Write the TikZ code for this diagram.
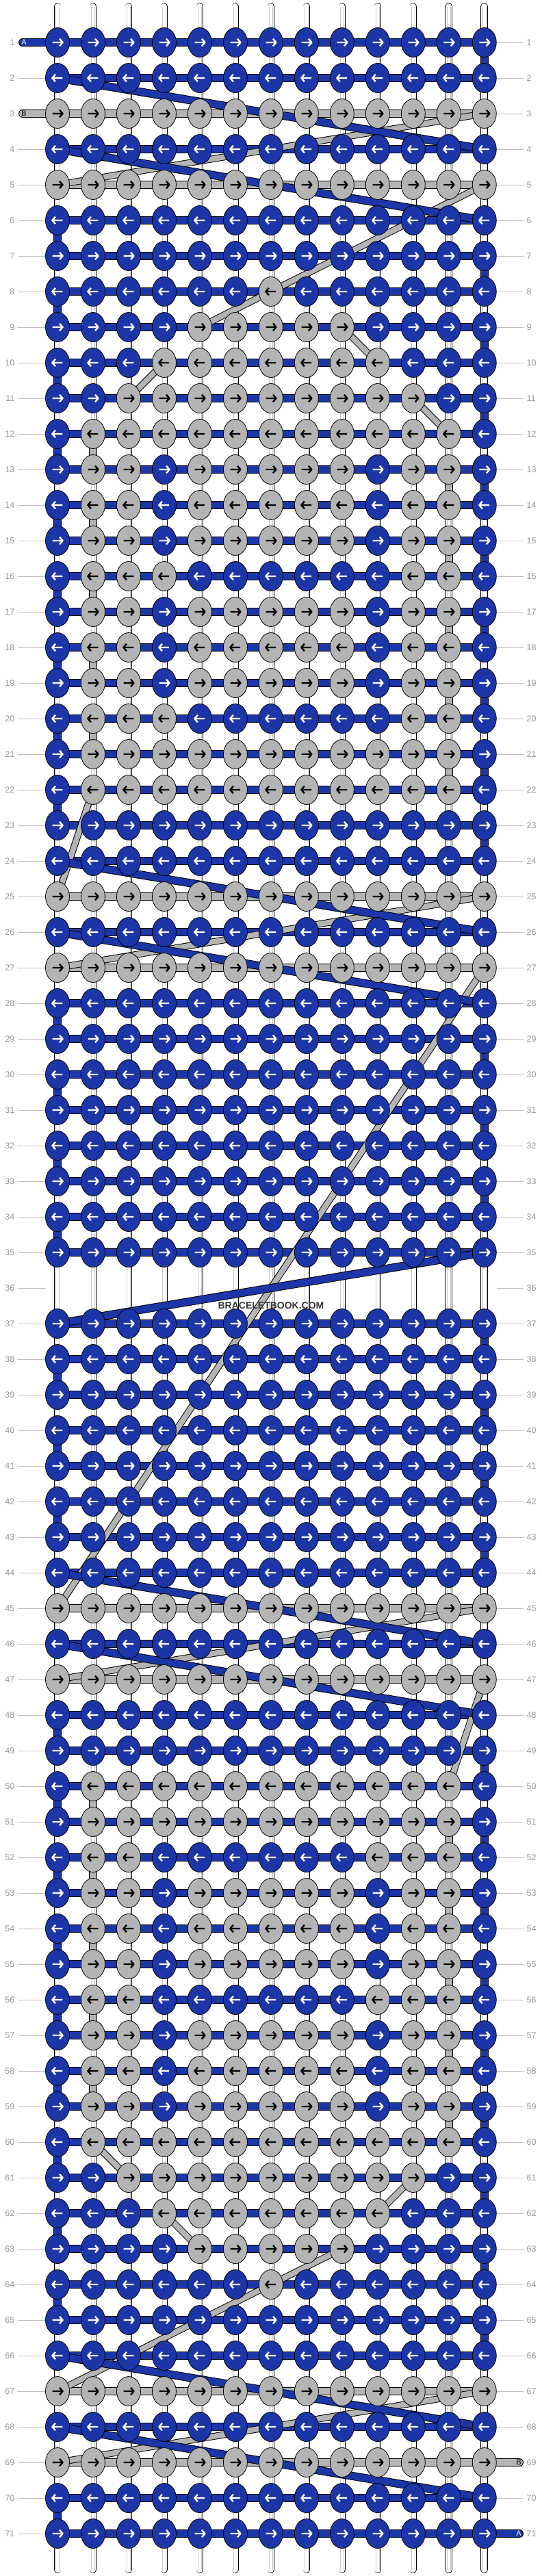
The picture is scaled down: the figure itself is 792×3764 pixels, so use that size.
\documentclass[tikz,border=0pt]{standalone}
\usepackage{fontspec}
\setmainfont{Liberation Sans}
\usetikzlibrary{shapes.geometric}
\definecolor{kblue}{RGB}{28,54,168}
\definecolor{kgray}{RGB}{180,180,180}
\definecolor{lblgray}{RGB}{150,150,150}
\definecolor{lbllinec}{RGB}{190,190,190}
\definecolor{tubegray}{RGB}{200,200,200}
\definecolor{wmarkc}{RGB}{55,55,55}
\def\patA{A,A,A,A,A,A,A,A,A,A,A,A,A}
\def\patB{B,B,B,B,B,B,B,B,B,B,B,B,B}
\def\patH{A,A,A,A,A,A,B,A,A,A,A,A,A}
\def\patI{A,A,A,A,B,B,B,B,B,A,A,A,A}
\def\patJ{A,A,A,B,B,B,B,B,B,B,A,A,A}
\def\patK{A,A,B,B,B,B,B,B,B,B,B,A,A}
\def\patL{A,B,B,B,B,B,B,B,B,B,B,B,A}
\def\patM{A,B,B,A,B,B,B,B,B,A,B,B,A}
\def\patP{A,B,B,B,A,A,A,A,A,A,B,B,A}
\def\patQ{A,B,B,A,A,A,A,A,A,B,B,B,A}
\def\rowlist{1/A,2/A,3/B,4/A,5/B,6/A,7/A,8/H,9/I,10/J,11/K,12/L,13/M,14/M,15/M,16/P,17/M,18/M,19/M,20/P,21/L,22/L,23/A,24/A,25/B,26/A,27/B,28/A,29/A,30/A,31/A,32/A,33/A,34/A,35/A,37/A,38/A,39/A,40/A,41/A,42/A,43/A,44/A,45/B,46/A,47/B,48/A,49/A,50/L,51/L,52/Q,53/M,54/M,55/M,56/Q,57/M,58/M,59/M,60/L,61/K,62/J,63/I,64/H,65/A,66/A,67/B,68/A,69/B,70/A,71/A}
\begin{document}
\begin{tikzpicture}[x=1pt,y=-1pt,
  knot/.style={ellipse, draw=black, line width=0.8pt, minimum width=35pt, minimum height=43pt, inner sep=0pt},
  barout/.style={draw=black, line width=12pt},
  barin/.style={line width=10pt},
  gdiagout/.style={draw=black, line width=10pt},
  gdiagin/.style={draw=kgray, line width=8pt},
  bdiagout/.style={draw=black, line width=12pt},
  bdiagin/.style={draw=kblue, line width=10pt},
  tubeout/.style={draw=black, line width=10.6pt, line cap=round},
  tubein/.style={draw=white, line width=9pt, line cap=round},
  tubeline/.style={draw=tubegray, line width=0.7pt},
  arr/.style={line width=2.4pt, line join=round},
  lblline/.style={draw=lbllinec, line width=0.9pt},
  lbl/.style={text=lblgray, font=\fontsize{12.5}{14}\selectfont, inner sep=0pt},
  tailtxt/.style={font=\fontsize{11}{13}\selectfont, inner sep=0pt},
  wmark/.style={text=wmarkc, font=\bfseries\fontsize{14}{16}\selectfont, inner sep=0pt}
]
\fill[white] (0,0) rectangle (792,3764);
\useasboundingbox (0,0) rectangle (792,3764);
% knot centre coordinates
\foreach \rr in {1,...,71} {
  \foreach \cc in {1,...,13} {
    \coordinate (c-\rr-\cc) at ({84+51.98*(\cc-1)},{62+52*(\rr-1)});
  }
}
% label lines
\foreach \rr in {2,4,5,...,71} {
  \coordinate (ll-\rr) at (26,{62+52*(\rr-1)});
  \coordinate (le-\rr) at (66.5,{62+52*(\rr-1)});
  \draw[lblline] (ll-\rr) -- (le-\rr);
}
\foreach \rr in {1,...,68,70} {
  \coordinate (rl-\rr) at (725.5,{62+52*(\rr-1)});
  \coordinate (re-\rr) at (765,{62+52*(\rr-1)});
  \draw[lblline] (rl-\rr) -- (re-\rr);
}
% tubes
\foreach \cc in {1,...,13} {
  \coordinate (tt-\cc) at ({84+51.98*(\cc-1)},9.5);
  \coordinate (tb-\cc) at ({84+51.98*(\cc-1)},3754.5);
  \draw[tubeout] (tt-\cc) -- (tb-\cc);
  \draw[tubein] (tt-\cc) -- (tb-\cc);
  \draw[tubeline] ([xshift=-2.8pt]tt-\cc) -- ([xshift=-2.8pt]tb-\cc);
  \draw[tubeline] ([xshift=2.8pt]tt-\cc) -- ([xshift=2.8pt]tb-\cc);
}
% coloured vertical turns
\foreach \rr [evaluate=\rr as \rn using int(\rr+1)] in {1,7,9,11,13,15,17,19,21,23,29,31,33,37,39,41,43,49,51,53,55,57,59,61,63,65} {
  \draw[barout] (c-\rr-13) -- (c-\rn-13);
  \draw[barin, draw=kblue] (c-\rr-13) -- (c-\rn-13);
}
\foreach \rr [evaluate=\rr as \rn using int(\rr+1)] in {6,8,10,12,14,16,18,20,22,28,30,32,34,38,40,42,48,50,52,54,56,58,60,62,64,70} {
  \draw[barout] (c-\rr-1) -- (c-\rn-1);
  \draw[barin, draw=kblue] (c-\rr-1) -- (c-\rn-1);
}
\foreach \rr [evaluate=\rr as \rn using int(\rr+1)] in {12,14,16,18,20,50,52,54,56,58} {
  \draw[barout] (c-\rr-2) -- (c-\rn-2);
  \draw[barin, draw=kgray] (c-\rr-2) -- (c-\rn-2);
}
\foreach \rr [evaluate=\rr as \rn using int(\rr+1)] in {13,15,17,19,21,51,53,55,57,59} {
  \draw[barout] (c-\rr-12) -- (c-\rn-12);
  \draw[barin, draw=kgray] (c-\rr-12) -- (c-\rn-12);
}
% tails
\coordinate (tl-1) at (33,62);
\coordinate (tl-3) at (33,166);
\coordinate (tr-69) at (759,3598);
\coordinate (tr-71) at (759,3702);
\draw[barout, line cap=round] (tl-1) -- (c-1-1);
\draw[barin, draw=kblue, line cap=round] (tl-1) -- (c-1-1);
\draw[barout, line cap=round] (tl-3) -- (c-3-1);
\draw[barin, draw=kgray, line cap=round] (tl-3) -- (c-3-1);
\draw[barout, line cap=round] (c-69-13) -- (tr-69);
\draw[barin, draw=kgray, line cap=round] (c-69-13) -- (tr-69);
\draw[barout, line cap=round] (c-71-13) -- (tr-71);
\draw[barin, draw=kblue, line cap=round] (c-71-13) -- (tr-71);
% row bars
\foreach \rr/\pp in \rowlist {
  \if\pp B\def\bc{kgray}\else\def\bc{kblue}\fi
  \draw[barout] (c-\rr-1) -- (c-\rr-13);
  \draw[barin, draw=\bc] (c-\rr-1) -- (c-\rr-13);
}
% gray carried strands
\foreach \ra/\ca/\rb/\cb in {3/13/5/1, 5/13/8/7, 8/7/9/5, 9/9/10/10, 10/4/11/3, 11/11/12/12, 22/2/25/1, 25/13/27/1, 27/13/45/1, 45/13/47/1, 47/13/50/12, 60/2/61/3, 61/11/62/10, 62/4/63/5, 63/9/64/7, 64/7/67/1, 67/13/69/1} {
  \draw[gdiagout] (c-\ra-\ca) -- (c-\rb-\cb);
  \draw[gdiagin] (c-\ra-\ca) -- (c-\rb-\cb);
}
% blue carried strands
\foreach \ra/\ca/\rb/\cb in {2/1/4/13, 4/1/6/13, 24/1/26/13, 26/1/28/13, 35/13/37/1, 44/1/46/13, 46/1/48/13, 66/1/68/13, 68/1/70/13} {
  \draw[bdiagout] (c-\ra-\ca) -- (c-\rb-\cb);
  \draw[bdiagin] (c-\ra-\ca) -- (c-\rb-\cb);
}
% knots
\foreach \rr/\pp in \rowlist {
  \edef\thepat{\csname pat\pp\endcsname}
  \ifodd\rr\def\dir{1}\else\def\dir{-1}\fi
  \foreach \kk [count=\cc] in \thepat {
    \if\kk B\def\kc{kgray}\def\ac{black}\else\def\kc{kblue}\def\ac{white}\fi
    \node[knot, fill=\kc] (k-\rr-\cc) at (c-\rr-\cc) {};
    \draw[arr, draw=\ac, shift={(c-\rr-\cc)}, xscale=\dir] (-7.3,0) -- (7.6,0) (3,-5.3) -- (7.6,0) -- (3,5.3);
  }
}
% tail letters
\node[tailtxt, text=white] (ta-1) at (35,62) {A};
\node[tailtxt, text=black] (ta-3) at (35,166) {B};
\node[tailtxt, text=black] (ta-69) at (758,3598) {B};
\node[tailtxt, text=white] (ta-71) at (758,3702) {A};
% row numbers
\foreach \rr in {1,...,71} {
  \node[lbl, anchor=east] (nl-\rr) at (21.5,{62+52*(\rr-1)}) {\rr};
  \node[lbl, anchor=west] (nr-\rr) at (769.5,{62+52*(\rr-1)}) {\rr};
}
\node[wmark] (wm) at (396,1908) {BRACELETBOOK.COM};
\end{tikzpicture}
\end{document}
